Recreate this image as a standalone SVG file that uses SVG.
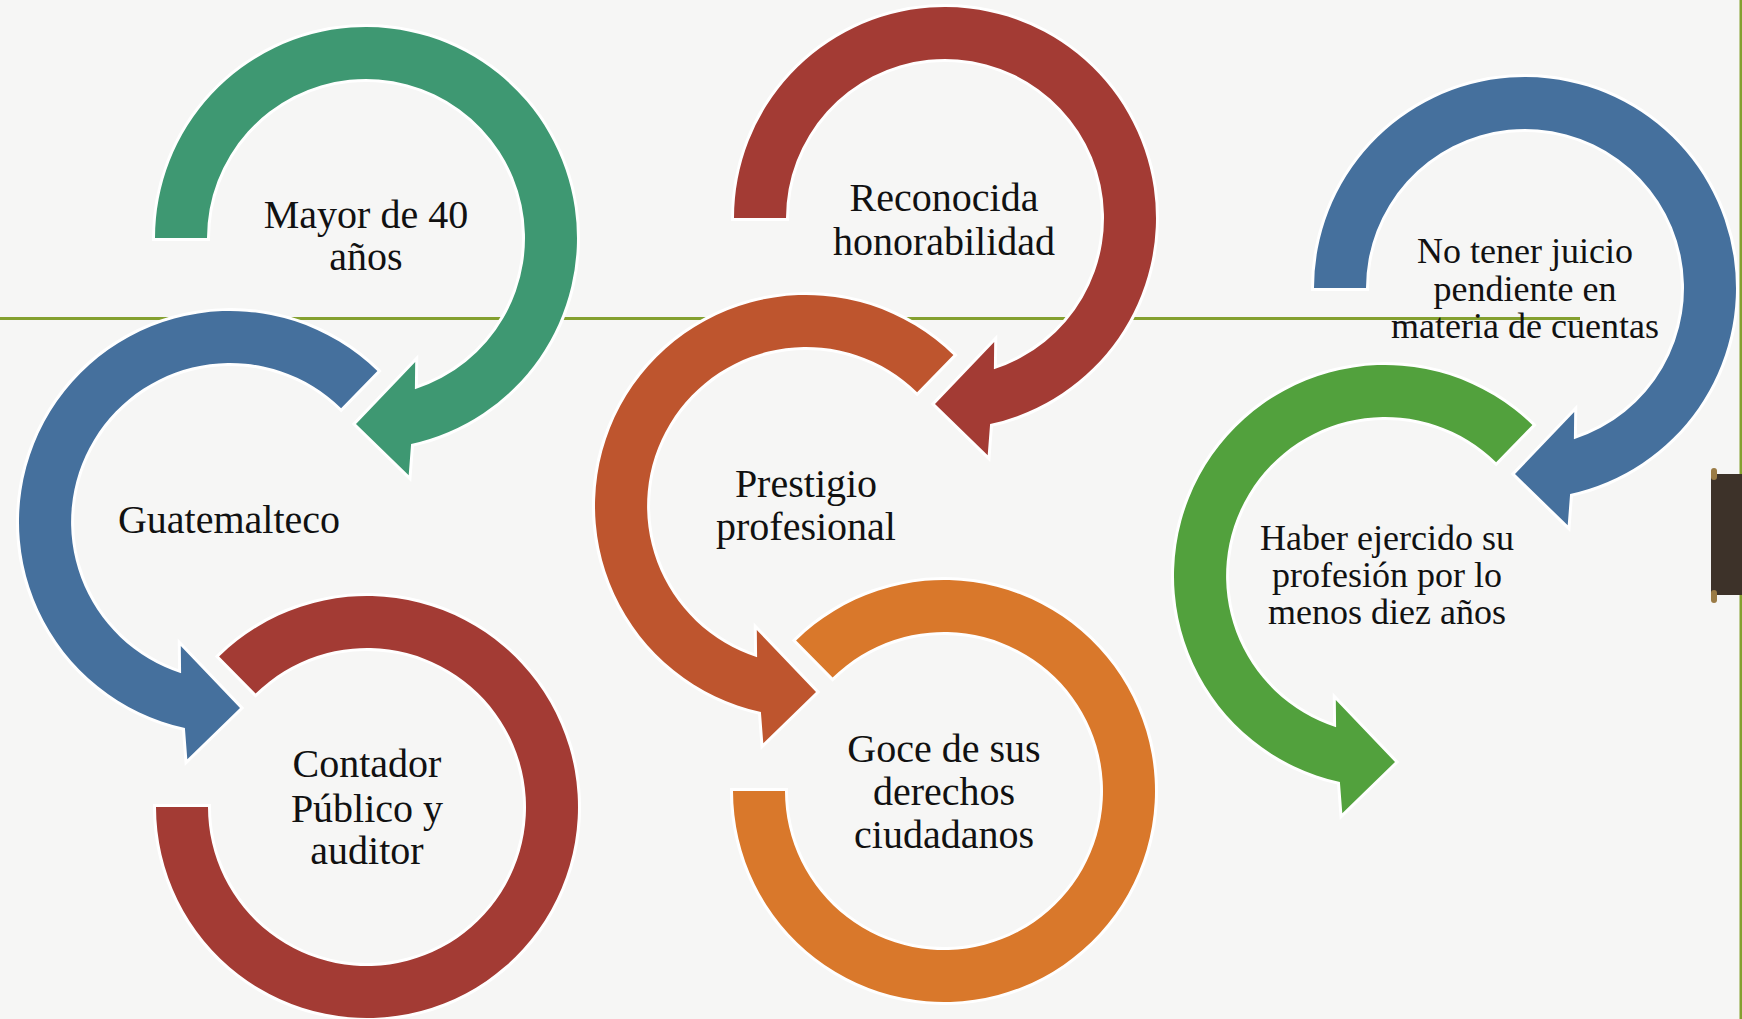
<svg xmlns="http://www.w3.org/2000/svg" width="1742" height="1019" viewBox="0 0 1742 1019">
  <style>
    .ring { stroke: #ffffff; stroke-width: 6; paint-order: stroke; stroke-linejoin: miter; }
    .lbl { font-family: "Liberation Serif", "DejaVu Serif", serif; font-size: 40px; fill: #111111; text-anchor: middle; }
    .sm { font-size: 36px; }
    .green1 { fill: #3E9872; }
    .blue { fill: #45709D; }
    .red { fill: #A33B34; }
    .rust { fill: #BE552E; }
    .orange { fill: #D9782B; }
    .green2 { fill: #52A13D; }
  </style>
  <defs>
    <path id="arrowA" d="M -211 0 A 211 211 0 1 1 45.1 206.1 L 42.7 237.3 L -10 186 L 49.2 124 L 48.9 151.3 A 159 159 0 1 0 -159 0 Z"/>
    <path id="arrowB" d="M 147.4 -151 A 211 211 0 1 0 -45.1 206.1 L -42.7 237.3 L 10 186 L -49.2 124 L -48.9 151.3 A 159 159 0 1 1 111.1 -113.8 Z"/>
    <path id="ringC" d="M -211 0 A 211 211 0 1 0 -147.9 -150.5 L -111.4 -113.4 A 159 159 0 1 1 -159 0 Z"/>
  </defs>

  <rect x="0" y="0" width="1742" height="1019" fill="#F6F6F5"/>
  <g id="background-lines">
    <rect x="0" y="317" width="1580" height="3" fill="#84A02F"/>
    <rect x="1739.5" y="0" width="2.5" height="1019" fill="#84A02F"/>
    <rect x="1711" y="474" width="31" height="121" fill="#3D3229"/>
    <rect x="1711" y="468" width="6" height="12" rx="3" fill="#9A7B45"/>
    <rect x="1711" y="590" width="6" height="13" rx="3" fill="#9A7B45"/>
  </g>

  <g id="connectors">
    <use href="#arrowA" class="ring green1" transform="translate(366 238)"/>
    <use href="#arrowB" class="ring blue" transform="translate(230 522)"/>
    <use href="#ringC" class="ring red" transform="translate(367 807)"/>
    <use href="#arrowA" class="ring red" transform="translate(945 218)"/>
    <use href="#arrowB" class="ring rust" transform="translate(806 506)"/>
    <use href="#ringC" class="ring orange" transform="translate(944 791)"/>
    <use href="#arrowA" class="ring blue" transform="translate(1525 288)"/>
    <use href="#arrowB" class="ring green2" transform="translate(1385 576)"/>
  </g>

  <g id="node-mayor">
    <text class="lbl" x="366" y="228">Mayor de 40</text>
    <text class="lbl" x="366" y="270">años</text>
  </g>
  <g id="node-guatemalteco">
    <text class="lbl" x="229" y="533">Guatemalteco</text>
  </g>
  <g id="node-contador">
    <text class="lbl" x="367" y="777">Contador</text>
    <text class="lbl" x="367" y="822">Público y</text>
    <text class="lbl" x="367" y="864">auditor</text>
  </g>
  <g id="node-reconocida">
    <text class="lbl" x="944" y="211">Reconocida</text>
    <text class="lbl" x="944" y="255">honorabilidad</text>
  </g>
  <g id="node-prestigio">
    <text class="lbl" x="806" y="497">Prestigio</text>
    <text class="lbl" x="806" y="540">profesional</text>
  </g>
  <g id="node-goce">
    <text class="lbl" x="944" y="762">Goce de sus</text>
    <text class="lbl" x="944" y="805">derechos</text>
    <text class="lbl" x="944" y="848">ciudadanos</text>
  </g>
  <g id="node-juicio">
    <text class="lbl sm" x="1525" y="263">No tener juicio</text>
    <text class="lbl sm" x="1525" y="301">pendiente en</text>
    <text class="lbl sm" x="1525" y="338">materia de cuentas</text>
  </g>
  <g id="node-haber">
    <text class="lbl sm" x="1387" y="550">Haber ejercido su</text>
    <text class="lbl sm" x="1387" y="587">profesión por lo</text>
    <text class="lbl sm" x="1387" y="624">menos diez años</text>
  </g>
</svg>
